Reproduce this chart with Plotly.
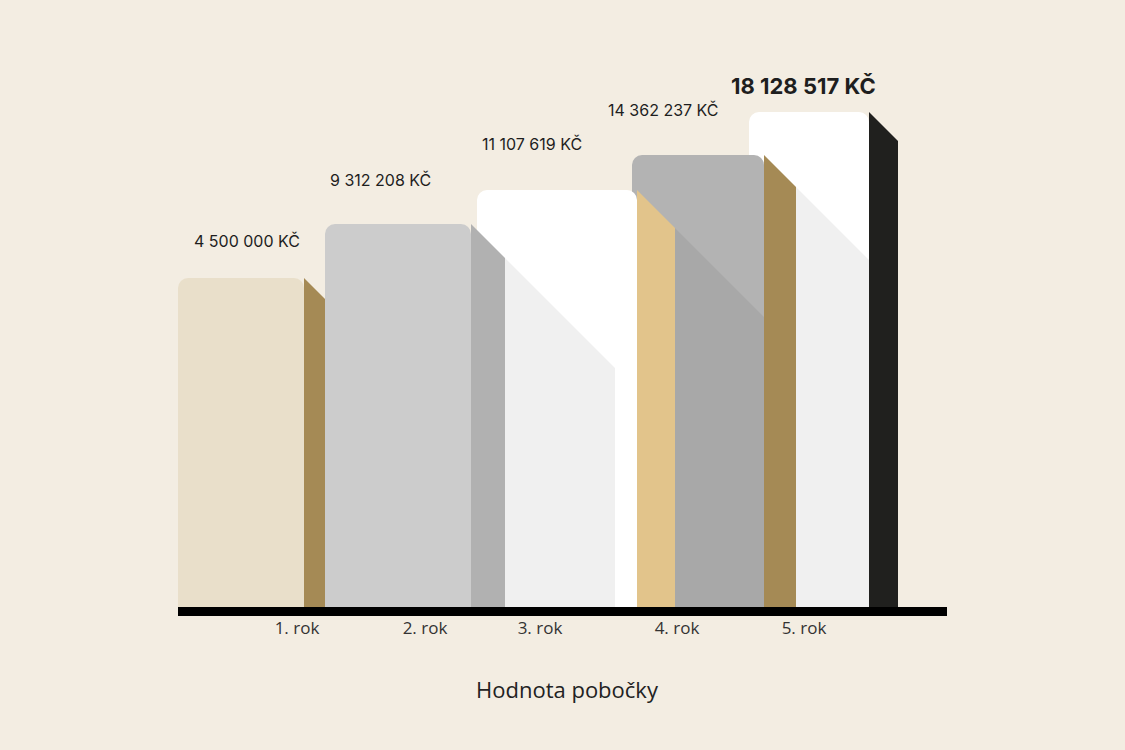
import plotly.graph_objects as go

# data
years = ["1. rok", "2. rok", "3. rok", "4. rok", "5. rok"]
values = [4500000, 9312208, 11107619, 14362237, 18128517]
# drawn bar heights (the picture does not scale bars to the values)
bar_heights = [329, 383, 417, 452, 495]

# layout of the pseudo-3d blocks (pixel units on both axes)
bar_left = [178, 325, 477, 632, 749]
bar_right = [304, 471, 637, 764, 869]
side_depth = [23, 34, 38, 32, 29]
shadow_end = [None, 615, 764, 869, None]
front_colors = ["#E9DFCA", "#CCCCCC", "#FFFFFF", "#B3B3B3", "#FFFFFF"]
side_colors = ["#A58A55", "#B1B1B1", "#E2C48B", "#A58A55", "#20201E"]
draw_z = [1, 5, 4, 3, 2]
label_x = [247, 380, 532, 663, 803]
label_gap = [37, 44, 46, 45, 26]
tick_x = [297, 425, 540, 677, 804]

def fmt(v):
    return f"{v:,}".replace(",", " ") + " KČ"

fig = go.Figure()
for i in range(len(years)):
    h = bar_heights[i]
    xl, xr, d = bar_left[i], bar_right[i], side_depth[i]
    fig.add_trace(go.Bar(x=[(xl + xr) / 2], y=[h], width=[xr - xl],
                         marker=dict(color=front_colors[i], line_width=0),
                         zorder=draw_z[i], hoverinfo="skip"))
    fig.add_trace(go.Scatter(x=[xr, xr + d, xr + d, xr, xr],
                             y=[h, h - d, 0, 0, h],
                             fill="toself", fillcolor=side_colors[i],
                             mode="lines", line_width=0,
                             zorder=draw_z[i], hoverinfo="skip"))
    if shadow_end[i]:
        xs, xe = xr + d, shadow_end[i]
        fig.add_trace(go.Scatter(x=[xs, xe, xe, xs, xs],
                                 y=[h - d, h - d - (xe - xs), 0, 0, h - d],
                                 fill="toself", fillcolor="rgba(0,0,0,0.06)",
                                 mode="lines", line_width=0,
                                 zorder=draw_z[i], hoverinfo="skip"))
    last = i == len(years) - 1
    fig.add_annotation(x=label_x[i], y=h + label_gap[i], text=fmt(values[i]),
                       showarrow=False,
                       font=dict(family="Inter", size=22 if last else 16,
                                 color="#1E1E1E",
                                 weight=700 if last else 400))

# black ground line
fig.add_shape(type="rect", xref="x", yref="y", x0=178, x1=947, y0=-9, y1=0,
              fillcolor="#000000", line_width=0, layer="above")

# chart caption under the axis
fig.add_annotation(text="Hodnota pobočky", x=567, xref="x",
                   y=61, yref="paper", yanchor="middle", showarrow=False,
                   font=dict(family="Open Sans", size=22, color="#222222"),
                   yshift=0)

fig.update_layout(
    width=1125, height=750,
    margin=dict(l=178, r=178, t=0, b=134),
    paper_bgcolor="#F3EDE2", plot_bgcolor="#F3EDE2",
    barmode="overlay", barcornerradius=10, showlegend=False,
    font=dict(family="Open Sans", color="#222222"),
)
# place caption in pixels below the plot area (plot height is 616 px)
fig.layout.annotations[-1].y = -(689 - 616) / 616
fig.update_xaxes(range=[178, 947], showgrid=False, zeroline=False,
                 showline=False, tickvals=tick_x, ticktext=years, ticks="",
                 tickfont=dict(size=17, color="#333333"))
fig.update_yaxes(range=[-9, 607], visible=False)

fig.write_html("out.html", config={"displayModeBar": False},
               post_script="document.body.style.margin='0';")
